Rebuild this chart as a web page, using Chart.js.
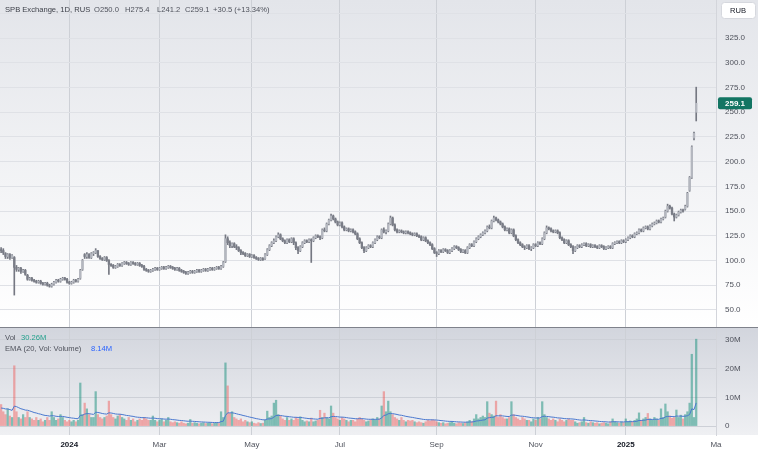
<!DOCTYPE html>
<html>
<head>
<meta charset="utf-8">
<script src="https://cdn.jsdelivr.net/npm/chart.js@4.4.1/dist/chart.umd.min.js"></script>
<style>
html, body { margin: 0; padding: 0; background: #fff; }
canvas { display: block; }
</style>
</head>
<body>
<canvas id="grafico" width="758" height="454"></canvas>
<script>
// daily bars, index 0 = first visible bar (mid Nov 2023) ... last = Feb 2025
const opens = [
  111, 110, 107, 104, 106, 103, 103, 93, 91, 92,
  89, 90, 85, 81, 82, 80, 79, 78, 79, 77,
  76, 77, 75, 74, 76, 78, 80, 79, 81, 82,
  81, 78, 77, 78, 80, 79, 82, 91, 106, 104,
  106, 103, 107, 108, 110, 104, 102, 101, 103, 100,
  96, 95, 93, 94, 96, 95, 97, 98, 97, 96,
  98, 97, 96, 97, 95, 94, 91, 90, 89, 90,
  91, 92, 91, 92, 93, 92, 93, 94, 93, 92,
  91, 92, 90, 89, 88, 87, 88, 89, 88, 89,
  90, 89, 90, 91, 90, 91, 92, 91, 92, 93,
  92, 94, 99, 122, 118, 115, 117, 114, 113, 110,
  108, 107, 105, 106, 104, 105, 103, 102, 101, 102,
  102, 106, 111, 115, 118, 120, 124, 126, 122, 120,
  118, 121, 119, 122, 118, 113, 110, 114, 118, 120,
  119, 121, 120, 123, 125, 124, 123, 131, 130, 137,
  141, 145, 142, 139, 136, 138, 134, 131, 132, 130,
  131, 129, 127, 122, 118, 113, 110, 113, 115, 114,
  118, 121, 124, 123, 131, 129, 130, 137, 143, 136,
  131, 129, 130, 129, 128, 129, 128, 127, 126, 127,
  125, 124, 121, 123, 120, 118, 116, 112, 108, 107,
  110, 109, 111, 110, 108, 110, 112, 114, 113, 111,
  109, 110, 108, 113, 116, 115, 119, 122, 124, 126,
  128, 130, 134, 133, 140, 143, 141, 139, 137, 134,
  131, 132, 128, 131, 125, 121, 118, 116, 114, 113,
  115, 112, 113, 116, 115, 118, 117, 122, 128, 133,
  132, 130, 129, 130, 128, 123, 121, 118, 120, 116,
  114, 110, 113, 115, 114, 116, 117, 115, 116, 114,
  115, 114, 113, 115, 114, 112, 113, 114, 113, 117,
  118, 119, 118, 120, 119, 121, 123, 125, 124, 127,
  128, 131, 130, 133, 134, 132, 135, 137, 138, 140,
  139, 142, 144, 150, 155, 153, 147, 144, 146, 149,
  151, 152, 155, 171, 184, 224, 250
]
const highs = [
  113, 112, 108, 107, 107, 106, 104, 95, 93, 93,
  91, 91, 86, 83, 83, 81, 80, 80, 80, 78,
  78, 78, 76, 77, 79, 81, 81, 82, 83, 83,
  82, 79, 79, 81, 81, 82, 91, 101, 107, 108,
  107, 108, 109, 112, 110, 105, 103, 104, 104, 101,
  97, 96, 95, 97, 97, 98, 99, 99, 98, 99,
  99, 98, 98, 98, 96, 95, 92, 91, 91, 92,
  93, 93, 93, 94, 94, 94, 95, 95, 94, 93,
  93, 93, 91, 90, 89, 89, 90, 90, 90, 91,
  91, 91, 92, 92, 92, 93, 93, 93, 94, 94,
  95, 99, 126, 124, 120, 118, 118, 116, 114, 111,
  109, 108, 107, 107, 106, 106, 104, 103, 103, 103,
  107, 112, 116, 119, 122, 125, 128, 127, 123, 121,
  122, 122, 123, 123, 119, 114, 115, 119, 121, 121,
  122, 122, 124, 126, 126, 125, 132, 133, 138, 142,
  147, 146, 143, 140, 139, 139, 135, 133, 133, 132,
  132, 130, 128, 123, 119, 114, 114, 116, 116, 119,
  122, 125, 125, 132, 133, 131, 138, 145, 144, 137,
  132, 131, 131, 130, 130, 130, 129, 128, 128, 128,
  126, 125, 124, 124, 121, 119, 117, 113, 109, 111,
  111, 112, 112, 111, 111, 113, 115, 115, 114, 112,
  111, 111, 114, 117, 117, 120, 123, 125, 127, 129,
  131, 135, 136, 141, 145, 144, 142, 140, 138, 135,
  133, 133, 132, 132, 126, 122, 119, 117, 115, 116,
  116, 114, 117, 117, 119, 119, 123, 129, 135, 134,
  133, 131, 131, 131, 129, 124, 122, 121, 121, 117,
  115, 114, 116, 116, 117, 118, 118, 117, 117, 116,
  116, 115, 116, 116, 115, 114, 115, 115, 118, 119,
  120, 120, 121, 121, 122, 124, 126, 126, 128, 129,
  132, 132, 134, 135, 135, 136, 138, 139, 141, 141,
  143, 144, 151, 157, 156, 154, 148, 147, 150, 152,
  152, 156, 169, 185, 216, 230, 275.4
]
const lows = [
  108, 106, 102, 102, 101, 102, 65, 89, 89, 87,
  88, 85, 80, 80, 79, 78, 77, 77, 76, 75,
  75, 74, 73, 73, 75, 77, 78, 78, 80, 80,
  77, 76, 76, 77, 78, 78, 81, 90, 102, 102,
  102, 102, 105, 107, 103, 101, 100, 100, 99, 86,
  94, 92, 92, 93, 94, 94, 96, 96, 95, 95,
  96, 95, 95, 94, 93, 90, 89, 88, 88, 89,
  90, 90, 90, 91, 91, 91, 92, 92, 91, 90,
  90, 89, 88, 87, 86, 86, 87, 87, 87, 88,
  88, 88, 89, 89, 89, 90, 90, 90, 91, 91,
  91, 93, 98, 116, 113, 113, 113, 111, 109, 106,
  106, 104, 104, 103, 103, 102, 101, 100, 100, 100,
  101, 105, 110, 114, 117, 119, 123, 121, 119, 117,
  117, 118, 118, 116, 111, 107, 109, 113, 117, 118,
  118, 98, 119, 122, 123, 121, 122, 129, 129, 136,
  140, 141, 138, 135, 135, 133, 130, 130, 129, 129,
  128, 126, 121, 117, 112, 108, 109, 112, 113, 113,
  117, 120, 122, 122, 128, 127, 129, 136, 135, 130,
  128, 128, 128, 127, 127, 127, 126, 125, 125, 124,
  123, 120, 120, 119, 117, 115, 111, 107, 104, 106,
  108, 108, 109, 107, 107, 109, 111, 112, 110, 108,
  108, 107, 107, 112, 114, 114, 118, 121, 123, 125,
  127, 129, 132, 132, 139, 140, 138, 136, 133, 130,
  130, 127, 127, 124, 120, 117, 115, 113, 111, 112,
  111, 110, 112, 114, 114, 116, 116, 121, 127, 131,
  129, 128, 128, 127, 122, 120, 117, 117, 115, 113,
  107, 109, 112, 113, 113, 115, 114, 114, 113, 113,
  113, 112, 112, 113, 111, 111, 112, 112, 112, 116,
  117, 117, 117, 118, 118, 120, 122, 123, 123, 126,
  127, 129, 129, 132, 131, 131, 134, 136, 137, 138,
  138, 141, 143, 149, 152, 146, 140, 143, 145, 148,
  149, 151, 154, 170, 183, 222, 241.2
]
const closes = [
  110, 108, 104, 106, 103, 105, 93, 91, 92, 89,
  90, 86, 81, 82, 80, 79, 78, 79, 77, 76,
  77, 75, 74, 76, 78, 80, 79, 81, 82, 81,
  78, 77, 78, 80, 79, 81, 90, 100, 104, 106,
  103, 107, 108, 110, 104, 102, 101, 103, 100, 96,
  95, 93, 94, 96, 95, 97, 98, 97, 96, 98,
  97, 96, 97, 95, 94, 91, 90, 89, 90, 91,
  92, 91, 92, 93, 92, 93, 94, 93, 92, 91,
  92, 90, 89, 88, 87, 88, 89, 88, 89, 90,
  89, 90, 91, 90, 91, 92, 91, 92, 93, 92,
  94, 98, 122, 118, 115, 117, 114, 113, 110, 108,
  107, 105, 106, 104, 105, 103, 102, 101, 102, 101,
  106, 111, 115, 118, 120, 124, 126, 122, 120, 118,
  121, 119, 122, 118, 113, 110, 114, 118, 120, 119,
  121, 120, 123, 125, 124, 123, 131, 130, 137, 141,
  145, 142, 139, 136, 138, 134, 131, 132, 130, 131,
  129, 127, 122, 118, 113, 110, 113, 115, 114, 118,
  121, 124, 123, 131, 129, 130, 137, 143, 136, 131,
  129, 130, 129, 128, 129, 128, 127, 126, 127, 125,
  124, 121, 123, 120, 118, 116, 112, 108, 107, 110,
  109, 111, 110, 108, 110, 112, 114, 113, 111, 109,
  110, 108, 113, 116, 115, 119, 122, 124, 126, 128,
  130, 134, 133, 140, 143, 141, 139, 137, 134, 131,
  132, 128, 131, 125, 121, 118, 116, 114, 113, 115,
  112, 113, 116, 115, 118, 117, 122, 128, 133, 132,
  130, 129, 130, 128, 123, 121, 118, 120, 116, 114,
  110, 113, 115, 114, 116, 117, 115, 116, 114, 115,
  114, 113, 115, 114, 112, 113, 114, 113, 117, 118,
  119, 118, 120, 119, 121, 123, 125, 124, 127, 128,
  131, 130, 133, 134, 132, 135, 137, 138, 140, 139,
  142, 143, 150, 155, 153, 147, 144, 146, 149, 151,
  150, 155, 168, 184, 215, 228.6, 259.1
]
// volume in millions
const volumes = [
  7.5, 5, 4, 6, 3.5, 3, 21, 5, 3, 2.5,
  4, 3, 5, 3, 2.5, 2, 3, 2, 2.5, 1.5,
  2, 3, 2, 5, 3, 2, 2.5, 4, 3, 2,
  1.5, 2, 1.5, 2, 1.5, 2, 15, 4, 8, 6,
  4, 3, 3, 12, 4, 3, 2.5, 3, 3.5, 8.7,
  4, 3, 2.5, 3.5, 4, 3, 2.5, 2, 3, 2,
  2.5, 1.5, 2, 2.5, 2, 3, 2.5, 2, 2, 3.5,
  2, 1.5, 2, 2.5, 1.5, 2, 3, 1.5, 1.2, 1.5,
  1.2, 1, 1.5, 1, 0.8, 1, 2.3, 1, 1.2, 1,
  0.8, 1, 1.2, 0.9, 1, 1.1, 0.8, 1, 1.2, 0.9,
  5, 3, 22, 14, 4.4, 5, 3, 2.5, 2, 2.5,
  1.5, 2, 1.5, 1.2, 1.5, 1, 0.8, 1.2, 0.9, 1,
  2, 5.2, 3, 3.5, 8, 9, 4, 3.5, 2.5, 2,
  3, 2, 2.5, 2, 3, 2.5, 3.2, 2, 1.5, 1.8,
  1.5, 2.8, 1.5, 1.8, 2, 5.5, 3, 4.5, 3, 2.5,
  7, 4.5, 3, 2.5, 2, 3, 2.5, 2, 1.5, 2,
  2, 1.5, 2.5, 3, 2.5, 2, 1.5, 1.8, 2.2, 2.5,
  2, 3, 2.5, 7, 12, 5, 8.7, 5, 4, 3,
  2.5, 2, 3, 2, 1.5, 2, 1.8, 2, 1.5, 1.2,
  1.5, 1.2, 1, 1.5, 2, 1.8, 2.2, 2, 1.5, 1.2,
  1, 1.2, 0.8, 1, 1.2, 1.5, 1, 0.8, 1.2, 1,
  0.9, 1.2, 1.5, 2, 1.5, 2.5, 4, 2.5, 3, 3.5,
  3, 8.5, 4.5, 4, 3.5, 8.7, 3, 4, 3, 2.5,
  2.5, 3, 8.5, 4, 3, 2.5, 2, 3, 2.5, 2,
  2, 1.5, 2.5, 2, 3, 2.5, 8.5, 4, 3, 2.5,
  2, 2.5, 2, 1.5, 2.5, 2, 1.5, 2, 2.5, 2,
  2, 1.5, 1, 1.2, 1.5, 3, 1.2, 1, 1.5, 1.2,
  1, 1.2, 0.8, 1, 1.2, 1, 0.8, 1.5, 2.5, 1.5,
  1.2, 1, 1.5, 1.2, 2.5, 1.5, 1.8, 1.5, 2, 2.5,
  4.6, 2, 2.5, 3, 4.4, 2.5, 2, 3, 2.5, 2,
  6, 3, 7.7, 5, 3.5, 2.7, 3, 5.6, 3, 3.8,
  2.5, 4, 5, 8, 25, 3, 30.26
]
const emaStart = 6.3   // EMA value at the first visible bar
const emaLength = 20

const monthTicks = [31, 72, 114, 154, 198, 243, 284, 325]
const monthLabels = ['2024', 'Mar', 'May', 'Jul', 'Sep', 'Nov', '2025', 'Ma']
const priceTicks = [50, 75, 100, 125, 150, 175, 200, 225, 250, 275, 300, 325, 350]
const volTicks = [0, 10, 20, 30]

// ema (20) of the volume, as the indicator in the chart
var ema = []
var k = 2 / (emaLength + 1)
for (var i = 0; i < volumes.length; i++) {
  if (i == 0) ema.push(emaStart)
  else ema.push(ema[i - 1] + (volumes[i] - ema[i - 1]) * k)
}

var corpos = [], pavios = [], vols = [], linhaEma = []
var corCorpo = [], corVol = []
for (var i = 0; i < closes.length; i++) {
  var alta = closes[i] >= opens[i]
  corpos.push({x: i, y: [Math.min(opens[i], closes[i]), Math.max(opens[i], closes[i])]})
  pavios.push({x: i, y: [lows[i], highs[i]]})
  vols.push({x: i, y: volumes[i]})
  linhaEma.push({x: i, y: ema[i]})
  corCorpo.push(alta ? '#b4b7bf' : '#7a7d87')
  corVol.push(alta ? 'rgba(38,150,132,0.55)' : 'rgba(239,83,80,0.45)')
}

const fonte = "'Liberation Sans', Arial, sans-serif"

const fundo = {
  id: 'fundo',
  beforeDraw(chart) {
    const c = chart.ctx
    const yp = chart.scales.y
    const yv = chart.scales.yv
    c.save()
    c.fillStyle = '#ffffff'
    c.fillRect(0, 0, chart.width, chart.height)
    var g1 = c.createLinearGradient(0, 0, 0, yp.bottom)
    g1.addColorStop(0, '#e3e5ea')
    g1.addColorStop(1, '#ffffff')
    c.fillStyle = g1
    c.fillRect(0, 0, chart.width, yp.bottom)
    var g2 = c.createLinearGradient(0, yv.top, 0, yv.bottom)
    g2.addColorStop(0, '#d2d5dd')
    g2.addColorStop(1, '#eff0f3')
    c.fillStyle = g2
    c.fillRect(0, yv.top, chart.width, yv.bottom - yv.top)
    c.restore()
  },
  afterDraw(chart) {
    const c = chart.ctx
    const yp = chart.scales.y
    c.save()
    // pane separator
    c.strokeStyle = '#7f828b'
    c.lineWidth = 1
    c.beginPath()
    c.moveTo(0, Math.round(yp.bottom) + 0.5)
    c.lineTo(chart.width, Math.round(yp.bottom) + 0.5)
    c.stroke()

    c.textBaseline = 'middle'
    c.font = '7.6px ' + fonte
    c.fillStyle = '#3b3e47'
    c.fillText('SPB Exchange, 1D, RUS', 5, 10)
    c.fillStyle = '#4f525c'
    c.fillText('O250.0', 94, 10)
    c.fillText('H275.4', 125, 10)
    c.fillText('L241.2', 157, 10)
    c.fillText('C259.1', 185, 10)
    c.fillText('+30.5 (+13.34%)', 213, 10)

    c.fillStyle = '#4f525c'
    c.fillText('Vol', 5, 338)
    c.fillStyle = '#22a08c'
    c.fillText('30.26M', 21, 338)
    c.fillStyle = '#4f525c'
    c.fillText('EMA (20, Vol: Volume)', 5, 349)
    c.fillStyle = '#2962ff'
    c.fillText('8.14M', 91, 349)

    // RUB box
    c.fillStyle = '#ffffff'
    c.strokeStyle = '#d6d8de'
    c.beginPath()
    c.roundRect(721.5, 2.5, 34, 16, 3)
    c.fill()
    c.stroke()
    c.fillStyle = '#131722'
    c.textAlign = 'center'
    c.fillText('RUB', 738, 11)

    // last price badge
    var py = yp.getPixelForValue(closes[closes.length - 1])
    c.fillStyle = '#137563'
    c.beginPath()
    c.roundRect(718, py - 6, 34, 12, 2)
    c.fill()
    c.fillStyle = '#ffffff'
    c.font = 'bold 8px ' + fonte
    c.fillText(closes[closes.length - 1].toFixed(1), 735, py + 0.5)
    c.restore()
  }
}

const ctx = document.getElementById('grafico')
new Chart(ctx, {
  type: 'bar',
  data: {
    datasets: [{
      type: 'line',
      data: linhaEma,
      yAxisID: 'yv',
      borderColor: '#4a78cf',
      borderWidth: 1,
      pointRadius: 0,
      tension: 0,
      order: 0
    }, {
      data: corpos,
      yAxisID: 'y',
      backgroundColor: corCorpo,
      barThickness: 1.7,
      minBarLength: 1,
      grouped: false,
      order: 1
    }, {
      data: pavios,
      yAxisID: 'y',
      backgroundColor: '#757882',
      barThickness: 1,
      grouped: false,
      order: 2
    }, {
      data: vols,
      yAxisID: 'yv',
      backgroundColor: corVol,
      barThickness: 1.6,
      grouped: false,
      order: 3
    }]
  },
  options: {
    responsive: false,
    devicePixelRatio: 1,
    animation: false,
    layout: { padding: 0 },
    plugins: { legend: { display: false }, tooltip: { enabled: false } },
    scales: {
      x: {
        type: 'linear',
        min: -0.5,
        max: 325,
        offset: false,
        afterBuildTicks(s) { s.ticks = monthTicks.map(v => ({value: v})) },
        afterFit(s) { s.height = 19; s.paddingLeft = 0; s.paddingRight = 0 },
        grid: { color: '#cdd0d6', drawTicks: false, offset: false },
        border: { display: false },
        ticks: {
          autoSkip: false,
          maxRotation: 0,
          padding: 5,
          callback: (v) => monthLabels[monthTicks.indexOf(v)],
          color: (c) => (c.tick && (c.tick.value == 31 || c.tick.value == 284)) ? '#131722' : '#4f525c',
          font: (c) => ({family: fonte, size: 8, weight: (c.tick && (c.tick.value == 31 || c.tick.value == 284)) ? 'bold' : 'normal'})
        }
      },
      y: {
        type: 'linear',
        position: 'right',
        stack: 'paineis',
        stackWeight: 327,
        min: 32.7,
        max: 363.6,
        afterBuildTicks(s) { s.ticks = priceTicks.map(v => ({value: v})) },
        afterFit(s) { s.width = 42; s.paddingTop = 0; s.paddingBottom = 0 },
        grid: { color: '#dfe1e6', drawTicks: false },
        border: { color: '#d3d5db' },
        ticks: {
          padding: 9,
          color: '#4f525c',
          font: { family: fonte, size: 8 },
          callback: (v) => v == 350 ? '' : v.toFixed(1)
        }
      },
      yv: {
        type: 'linear',
        position: 'right',
        stack: 'paineis',
        stackWeight: 108,
        min: -3.1,
        max: 34.5,
        afterBuildTicks(s) { s.ticks = volTicks.map(v => ({value: v})) },
        afterFit(s) { s.width = 42; s.paddingTop = 0; s.paddingBottom = 0 },
        grid: { color: '#cdd0d7', drawTicks: false },
        border: { color: '#d3d5db' },
        ticks: {
          padding: 9,
          color: '#4f525c',
          font: { family: fonte, size: 8 },
          callback: (v) => v == 0 ? '0' : v + 'M'
        }
      }
    }
  },
  plugins: [fundo]
})
</script>
</body>
</html>
